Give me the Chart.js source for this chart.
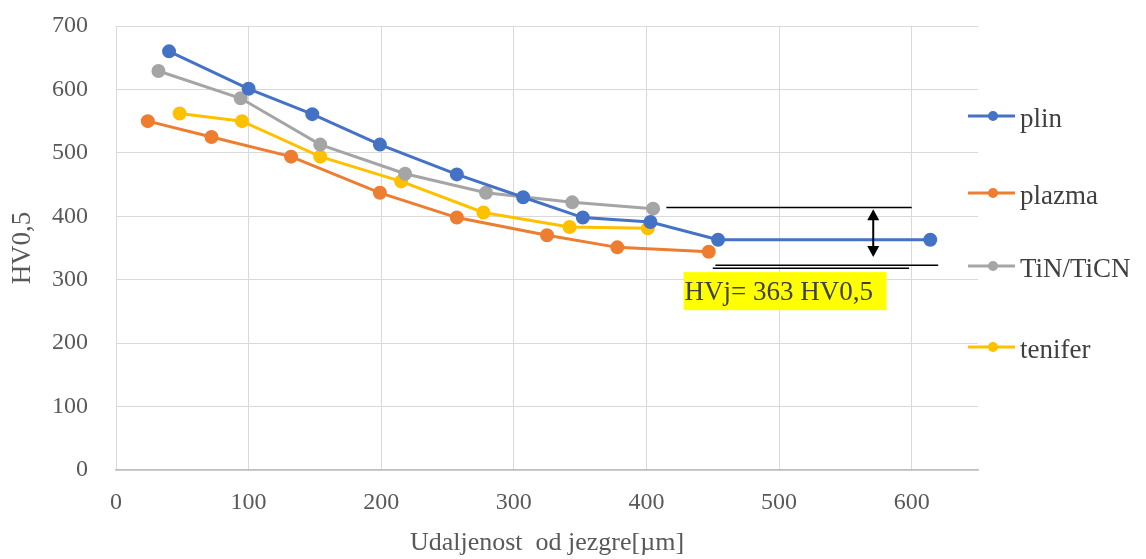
<!DOCTYPE html>
<html>
<head>
<meta charset="utf-8">
<script src="https://cdn.jsdelivr.net/npm/chart.js@4.4.1/dist/chart.umd.min.js"></script>
<style>
  html, body { margin: 0; padding: 0; background: #fff; }
  #wrap { width: 1146px; height: 559px; }
</style>
</head>
<body>
<div id="wrap"><canvas id="myChart" width="1146" height="559"></canvas></div>
<script>
// DATA (distance from core in µm, hardness HV0,5)

const plinX = [40, 100, 148, 199, 257, 307, 352, 403, 454, 614];
const plinY = [660, 601, 561, 513, 466, 430, 398, 391, 363, 363];

const plazmaX = [24, 72, 132, 199, 257, 325, 378, 447];
const plazmaY = [550, 525, 494, 437, 398, 370, 351, 344];

const tinX = [32, 94, 154, 218, 279, 344, 405];
const tinY = [629, 586, 513, 467, 437, 422, 412];

const teniferX = [48, 95, 154, 215, 277, 342, 401];
const teniferY = [562, 550, 494, 455, 406, 383, 381];

const seriesNames = ["plin", "plazma", "TiN/TiCN", "tenifer"];
const seriesColors = ["#4472C4", "#ED7D31", "#A5A5A5", "#FFC000"];

const xTicks = [0, 100, 200, 300, 400, 500, 600];
const yTicks = [0, 100, 200, 300, 400, 500, 600, 700];

// core hardness note
const hvCore = 363;
const noteText = "HVj= 363 HV0,5";

function pts(xs, ys) {
  return xs.map((x, i) => ({ x: x, y: ys[i] }));
}

const serif = "'Liberation Serif', 'DejaVu Serif', serif";

// annotation: lines, arrow, yellow label
const notePlugin = {
  id: 'note',
  afterDatasetsDraw(chart) {
    const ctx = chart.ctx;
    const xs = chart.scales.x, ys = chart.scales.y;
    const X = v => xs.getPixelForValue(v);
    const Y = v => ys.getPixelForValue(v);

    ctx.save();
    ctx.strokeStyle = '#000';
    ctx.lineWidth = 1.5;
    // top line (end of TiN/TiCN level)
    ctx.beginPath();
    ctx.moveTo(X(415), Y(414));
    ctx.lineTo(X(600), Y(414));
    ctx.stroke();
    // lower lines
    ctx.beginPath();
    ctx.moveTo(X(452), Y(323));
    ctx.lineTo(X(620), Y(323));
    ctx.moveTo(X(450), Y(318));
    ctx.lineTo(X(598), Y(318));
    ctx.stroke();

    // double arrow
    const ax = X(571), a1 = Y(411), a2 = Y(336);
    ctx.lineWidth = 2;
    ctx.beginPath();
    ctx.moveTo(ax, a1 + 6);
    ctx.lineTo(ax, a2 - 6);
    ctx.stroke();
    ctx.fillStyle = '#000';
    ctx.beginPath();
    ctx.moveTo(ax, a1);
    ctx.lineTo(ax - 6, a1 + 11);
    ctx.lineTo(ax + 6, a1 + 11);
    ctx.closePath();
    ctx.fill();
    ctx.beginPath();
    ctx.moveTo(ax, a2);
    ctx.lineTo(ax - 6, a2 - 11);
    ctx.lineTo(ax + 6, a2 - 11);
    ctx.closePath();
    ctx.fill();

    // yellow label
    const bx1 = X(428), bx2 = X(581), by1 = Y(312), by2 = Y(252);
    ctx.fillStyle = '#FFFF00';
    ctx.fillRect(bx1, by1, bx2 - bx1, by2 - by1);
    ctx.fillStyle = '#404040';
    ctx.font = '27px ' + serif;
    ctx.textBaseline = 'alphabetic';
    ctx.textAlign = 'left';
    ctx.fillText(noteText, bx1 + 1, by1 + 28);
    ctx.restore();
  }
};

// legend on the right, drawn by hand to match spacing
const legendPlugin = {
  id: 'sideLegend',
  afterDraw(chart) {
    const ctx = chart.ctx;
    const rows = [116, 193, 266, 347];
    ctx.save();
    chart.data.datasets.forEach((ds, i) => {
      const y = rows[i];
      ctx.strokeStyle = ds.borderColor;
      ctx.lineWidth = 3;
      ctx.beginPath();
      ctx.moveTo(968, y);
      ctx.lineTo(1015, y);
      ctx.stroke();
      ctx.fillStyle = ds.borderColor;
      ctx.beginPath();
      ctx.arc(993, y, 5, 0, Math.PI * 2);
      ctx.fill();
      ctx.fillStyle = '#404040';
      ctx.font = '27px ' + serif;
      ctx.textBaseline = 'alphabetic';
      ctx.textAlign = 'left';
      ctx.fillText(ds.label, 1020, y + 10.5);
    });
    ctx.restore();
  }
};

const allX = [plinX, plazmaX, tinX, teniferX];
const allY = [plinY, plazmaY, tinY, teniferY];

new Chart("myChart", {
  type: "scatter",
  data: {
    datasets: seriesNames.map((name, i) => ({
      label: name,
      data: pts(allX[i], allY[i]),
      showLine: true,
      borderColor: seriesColors[i],
      backgroundColor: seriesColors[i],
      borderWidth: 3,
      pointRadius: 5.5,
      pointHoverRadius: 5.5,
      tension: 0
    }))
  },
  options: {
    responsive: false,
    animation: false,
    layout: { padding: { top: 26, right: 168, left: 0, bottom: 0 } },
    plugins: {
      legend: { display: false },
      tooltip: { enabled: false }
    },
    scales: {
      x: {
        type: 'linear',
        min: 0,
        max: 650,
        afterBuildTicks(scale) {
          scale.ticks = xTicks.map(v => ({ value: v }));
        },
        afterFit(scale) {
          scale.height = 89;
          scale.paddingLeft = 0;
          scale.paddingRight = 0;
        },
        grid: { color: '#d9d9d9', lineWidth: 1, drawTicks: false },
        border: { color: '#bfbfbf', width: 1.5 },
        ticks: {
          padding: 18,
          color: '#595959',
          font: { family: serif, size: 24 }
        },
        title: {
          display: true,
          text: 'Udaljenost  od jezgre[µm]',
          color: '#595959',
          font: { family: serif, size: 26 },
          padding: { top: 0, bottom: 0 }
        }
      },
      y: {
        min: 0,
        max: 700,
        afterBuildTicks(scale) {
          scale.ticks = yTicks.map(v => ({ value: v }));
        },
        afterFit(scale) {
          scale.width = 116;
          scale.paddingTop = 0;
          scale.paddingBottom = 0;
        },
        grid: { color: '#d9d9d9', lineWidth: 1, drawTicks: false },
        border: { display: false },
        ticks: {
          padding: 28,
          color: '#595959',
          font: { family: serif, size: 24 }
        },
        title: {
          display: true,
          text: 'HV0,5',
          color: '#595959',
          font: { family: serif, size: 27 },
          padding: { top: 7, bottom: 0 }
        }
      }
    }
  },
  plugins: [notePlugin, legendPlugin]
});
</script>
</body>
</html>
